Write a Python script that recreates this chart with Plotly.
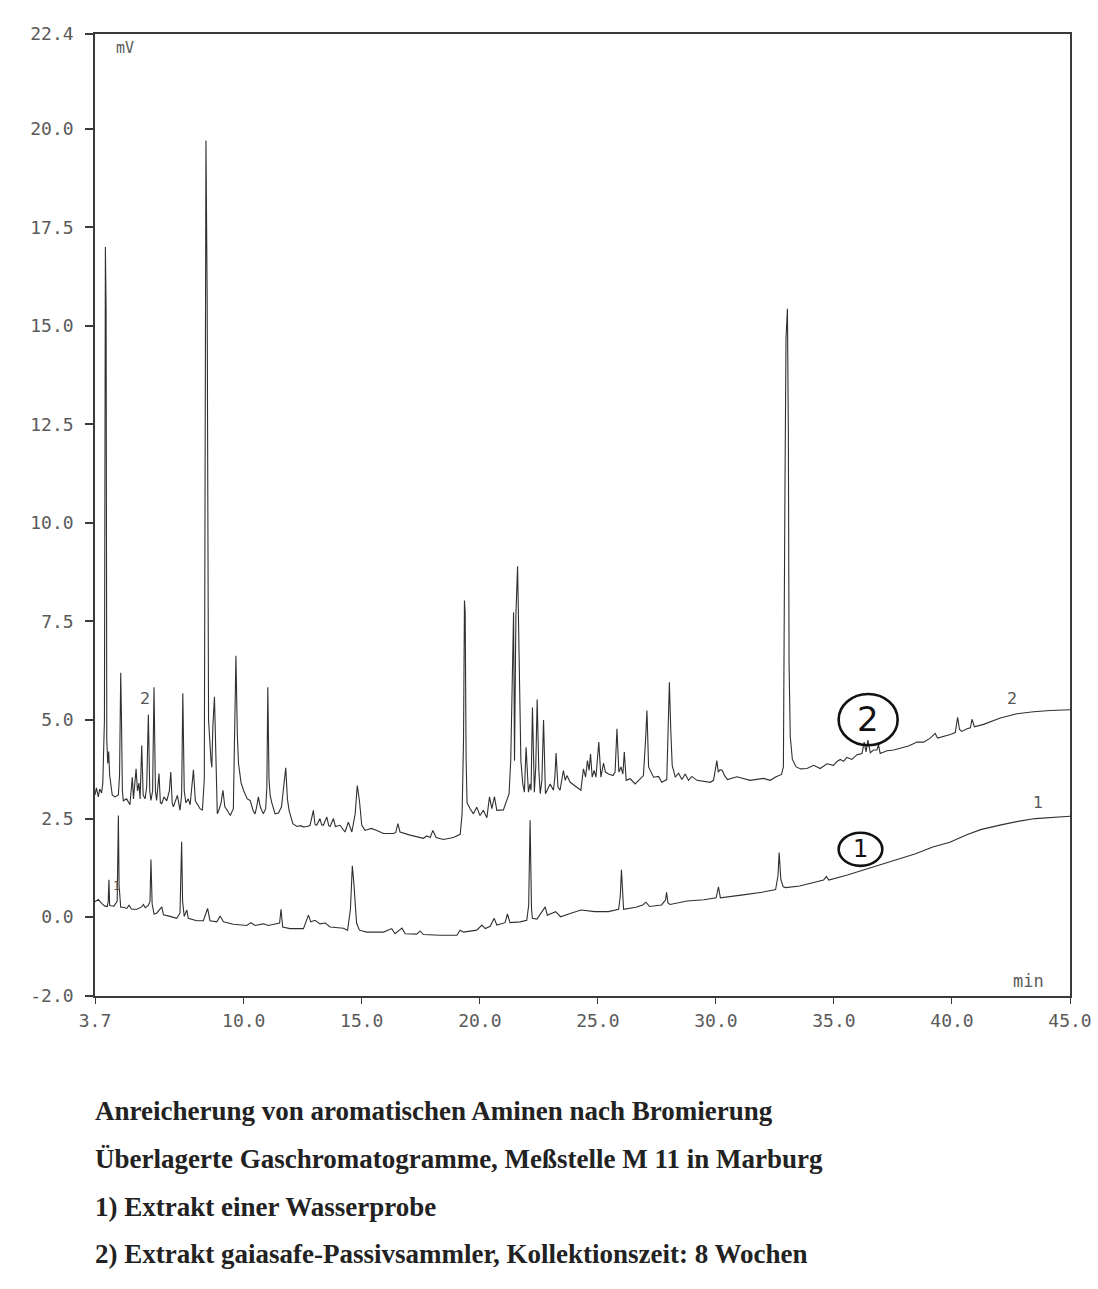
import plotly.graph_objects as go

# ---------------- data ----------------
# Trace 2: Extrakt gaiasafe-Passivsammler (upper chromatogram)
t2 = [3.70, 3.76, 3.84, 3.90, 3.98, 4.03, 4.10, 4.14, 4.17, 4.20, 4.24, 4.28, 4.32, 4.36, 4.43,
      4.55, 4.69, 4.74, 4.79, 4.82, 4.86, 4.90, 5.04, 5.18, 5.28, 5.33, 5.38, 5.44, 5.50, 5.56,
      5.61, 5.68, 5.74, 5.82, 5.89, 5.96, 6.02, 6.07, 6.14, 6.20, 6.26, 6.31, 6.41, 6.47, 6.53,
      6.62, 6.74, 6.85, 6.91, 6.97, 7.02, 7.12, 7.19, 7.30, 7.37, 7.42, 7.48, 7.55, 7.65, 7.73,
      7.87, 7.95, 8.01, 8.15, 8.25, 8.33, 8.40, 8.45, 8.51, 8.57, 8.61, 8.65, 8.69, 8.76, 8.82,
      8.88, 8.94, 9.04, 9.12, 9.20, 9.30, 9.43, 9.56, 9.61, 9.67, 9.73, 9.78, 9.89, 9.99, 10.15,
      10.27, 10.40, 10.48, 10.55, 10.62, 10.70, 10.83, 10.93, 10.98, 11.02, 11.07, 11.12, 11.19, 11.33, 11.47,
      11.60, 11.70, 11.78, 11.85, 11.92, 12.08, 12.25, 12.40, 12.53, 12.70, 12.81, 12.95, 13.02, 13.09, 13.23,
      13.30, 13.37, 13.52, 13.60, 13.66, 13.80, 13.88, 14.08, 14.29, 14.43, 14.58, 14.72, 14.81, 14.90, 15.00,
      15.14, 15.40, 15.64, 15.92, 16.34, 16.44, 16.53, 16.62, 17.05, 17.61, 17.75, 17.90, 18.01, 18.15, 18.46,
      18.88, 19.17, 19.25, 19.31, 19.35, 19.38, 19.42, 19.46, 19.59, 19.73, 19.87, 20.01, 20.15, 20.30, 20.41,
      20.51, 20.62, 20.72, 21.00, 21.14, 21.24, 21.31, 21.37, 21.43, 21.47, 21.53, 21.60, 21.66, 21.74, 21.82,
      21.89, 21.96, 22.06, 22.13, 22.17, 22.23, 22.31, 22.37, 22.43, 22.50, 22.56, 22.63, 22.70, 22.78, 22.98,
      23.12, 23.18, 23.23, 23.31, 23.40, 23.54, 23.62, 23.69, 23.83, 24.11, 24.28, 24.39, 24.48, 24.56, 24.63,
      24.69, 24.76, 24.84, 24.92, 25.04, 25.13, 25.24, 25.32, 25.45, 25.64, 25.73, 25.81, 25.89, 25.98, 26.06,
      26.12, 26.20, 26.37, 26.58, 26.79, 26.93, 27.02, 27.08, 27.15, 27.25, 27.36, 27.57, 27.71, 27.92, 27.99,
      28.03, 28.09, 28.15, 28.28, 28.42, 28.56, 28.70, 28.84, 28.98, 29.20, 29.48, 29.76, 29.90, 30.00, 30.04,
      30.10, 30.18, 30.27, 30.37, 30.49, 30.89, 31.45, 32.02, 32.30, 32.55, 32.78, 32.86, 32.92, 32.97, 33.03,
      33.07, 33.10, 33.15, 33.24, 33.40, 33.60, 33.86, 34.14, 34.42, 34.70, 34.98, 35.13, 35.27, 35.41, 35.55,
      35.76, 35.98, 36.19, 36.28, 36.36, 36.44, 36.54, 36.68, 36.82, 36.89, 36.96, 37.25, 37.53, 37.81, 38.16,
      38.52, 38.80, 39.08, 39.29, 39.39, 39.65, 39.93, 40.14, 40.24, 40.32, 40.42, 40.64, 40.78, 40.85, 40.95,
      41.34, 42.05, 42.75, 43.46, 44.17, 44.93, 45.00]
v2 = [3.10, 3.28, 3.05, 3.25, 3.15, 3.40, 5.00, 17.00, 15.40, 4.50, 3.90, 4.20, 3.60, 3.35, 3.10,
      3.05, 3.10, 3.60, 6.20, 5.10, 3.20, 2.95, 3.00, 2.85, 3.55, 3.00, 3.35, 3.76, 3.20, 3.40,
      3.00, 4.35, 3.10, 3.00, 3.30, 5.14, 3.20, 2.96, 3.20, 5.83, 3.20, 2.96, 3.64, 2.90, 2.88,
      3.05, 2.95, 3.20, 3.68, 2.90, 2.80, 3.00, 3.09, 2.71, 3.10, 5.68, 3.20, 2.90, 3.00, 2.85,
      3.74, 2.95, 2.88, 2.75, 2.71, 3.50, 19.70, 15.80, 5.00, 4.14, 4.00, 3.80, 4.80, 5.59, 3.70,
      2.62, 2.70, 2.90, 3.22, 2.80, 2.71, 2.58, 2.75, 4.20, 6.63, 4.60, 3.89, 3.40, 3.22, 3.00,
      2.96, 2.70, 2.62, 2.80, 3.05, 2.80, 2.62, 2.75, 3.30, 5.83, 3.50, 3.09, 2.90, 2.62, 2.64,
      2.80, 3.30, 3.79, 3.00, 2.71, 2.37, 2.30, 2.32, 2.29, 2.30, 2.33, 2.71, 2.35, 2.33, 2.50,
      2.34, 2.33, 2.54, 2.32, 2.30, 2.50, 2.30, 2.33, 2.16, 2.41, 2.16, 2.62, 3.34, 2.96, 2.33,
      2.20, 2.25, 2.20, 2.12, 2.12, 2.15, 2.37, 2.16, 2.08, 2.00, 2.06, 2.02, 2.20, 2.02, 1.97,
      2.02, 2.10, 2.62, 4.48, 8.03, 7.73, 4.00, 2.90, 2.75, 2.62, 2.79, 2.58, 2.71, 2.52, 3.05,
      2.75, 3.06, 2.71, 2.72, 2.96, 3.13, 3.97, 6.00, 7.73, 3.97, 7.70, 8.90, 6.84, 3.97, 3.38,
      3.17, 4.31, 3.17, 3.38, 3.22, 5.32, 3.17, 3.81, 5.52, 3.72, 3.13, 3.47, 5.00, 3.13, 3.38,
      3.22, 3.55, 4.16, 3.30, 3.22, 3.72, 3.47, 3.59, 3.42, 3.30, 3.22, 3.76, 3.55, 3.97, 3.72,
      4.14, 3.55, 3.72, 3.55, 4.44, 3.55, 3.91, 3.68, 3.63, 3.59, 3.68, 4.78, 3.68, 3.81, 3.63,
      4.19, 3.47, 3.51, 3.38, 3.51, 3.59, 4.48, 5.24, 3.81, 3.68, 3.55, 3.57, 3.42, 3.49, 4.73,
      5.96, 4.73, 3.85, 3.55, 3.65, 3.49, 3.63, 3.47, 3.57, 3.47, 3.45, 3.42, 3.47, 3.93, 3.97,
      3.68, 3.74, 3.72, 3.59, 3.49, 3.56, 3.47, 3.52, 3.47, 3.56, 3.62, 3.81, 10.30, 14.67, 15.43,
      12.25, 6.43, 4.58, 4.00, 3.81, 3.76, 3.77, 3.85, 3.77, 3.89, 3.85, 3.95, 4.00, 3.95, 4.05,
      4.00, 4.12, 4.15, 4.44, 4.19, 4.49, 4.17, 4.24, 4.24, 4.37, 4.15, 4.22, 4.24, 4.29, 4.34,
      4.44, 4.44, 4.54, 4.66, 4.54, 4.58, 4.63, 4.68, 5.07, 4.76, 4.71, 4.78, 4.80, 5.02, 4.83,
      4.89, 5.05, 5.16, 5.21, 5.24, 5.26, 5.26]

# Trace 1: Extrakt einer Wasserprobe (lower chromatogram)
t1 = [3.70, 3.84, 3.98, 4.12, 4.22, 4.26, 4.29, 4.32, 4.37, 4.50, 4.64, 4.69, 4.72, 4.79, 4.90,
      5.04, 5.14, 5.25, 5.47, 5.68, 5.75, 5.83, 5.96, 6.03, 6.07, 6.12, 6.20, 6.31, 6.53, 6.60,
      6.88, 7.16, 7.30, 7.37, 7.41, 7.48, 7.59, 7.65, 8.01, 8.29, 8.47, 8.57, 8.86, 9.00, 9.14,
      9.56, 10.13, 10.30, 10.48, 10.83, 11.04, 11.33, 11.52, 11.58, 11.65, 11.96, 12.53, 12.74, 12.84, 13.02,
      13.23, 13.45, 13.66, 14.22, 14.40, 14.52, 14.60, 14.66, 14.78, 14.90, 15.21, 15.92, 16.27, 16.41, 16.70,
      16.84, 17.33, 17.47, 17.61, 18.32, 19.03, 19.17, 19.31, 19.87, 20.09, 20.23, 20.44, 20.61, 20.72, 21.07,
      21.17, 21.28, 21.71, 21.99, 22.07, 22.13, 22.19, 22.23, 22.42, 22.77, 22.86, 23.21, 23.42, 23.86, 24.29,
      24.87, 25.45, 25.88, 25.95, 26.00, 26.04, 26.09, 26.61, 26.90, 27.04, 27.19, 27.70, 27.87, 27.91, 27.97,
      28.06, 28.78, 29.50, 30.01, 30.11, 30.19, 31.23, 31.95, 32.53, 32.63, 32.68, 32.75, 32.85, 32.96, 33.55,
      34.12, 34.56, 34.68, 34.78, 35.57, 36.29, 37.02, 37.74, 38.46, 39.19, 39.91, 40.63, 41.21, 42.08, 42.80,
      43.53, 44.25, 45.00]
v1 = [0.39, 0.45, 0.35, 0.28, 0.27, 0.40, 0.95, 0.30, 0.29, 0.28, 0.40, 2.58, 0.80, 0.25, 0.25,
      0.22, 0.30, 0.20, 0.20, 0.26, 0.32, 0.24, 0.30, 0.40, 1.46, 0.34, 0.08, 0.10, 0.26, 0.06,
      0.02, -0.03, 0.10, 1.91, 0.40, 0.02, 0.18, -0.03, -0.09, -0.09, 0.22, -0.09, -0.12, 0.03, -0.12,
      -0.18, -0.21, -0.14, -0.21, -0.17, -0.21, -0.17, -0.15, 0.20, -0.25, -0.29, -0.29, 0.05, -0.12, -0.08,
      -0.17, -0.15, -0.25, -0.28, -0.33, 0.20, 1.30, 0.90, -0.15, -0.33, -0.38, -0.38, -0.29, -0.42, -0.28,
      -0.42, -0.43, -0.35, -0.44, -0.46, -0.46, -0.33, -0.38, -0.33, -0.20, -0.29, -0.23, -0.03, -0.20, -0.14,
      0.08, -0.14, -0.12, -0.08, 0.30, 2.46, 0.20, -0.03, -0.05, 0.26, 0.05, 0.14, 0.01, 0.10, 0.18,
      0.14, 0.14, 0.20, 0.53, 1.20, 0.53, 0.20, 0.25, 0.31, 0.38, 0.27, 0.31, 0.44, 0.63, 0.36,
      0.32, 0.41, 0.44, 0.49, 0.77, 0.49, 0.57, 0.63, 0.70, 1.05, 1.64, 0.96, 0.77, 0.75, 0.79,
      0.88, 0.94, 1.03, 0.94, 1.07, 1.20, 1.35, 1.48, 1.61, 1.78, 1.90, 2.09, 2.22, 2.34, 2.43,
      2.50, 2.53, 2.56]

x_tickvals = [3.7, 10.0, 15.0, 20.0, 25.0, 30.0, 35.0, 40.0, 45.0]
x_ticktext = ["3.7", "10.0", "15.0", "20.0", "25.0", "30.0", "35.0", "40.0", "45.0"]
y_tickvals = [-2.0, 0.0, 2.5, 5.0, 7.5, 10.0, 12.5, 15.0, 17.5, 20.0, 22.4]
y_ticktext = ["-2.0", "0.0", "2.5", "5.0", "7.5", "10.0", "12.5", "15.0", "17.5", "20.0", "22.4"]

caption = [
    "Anreicherung von aromatischen Aminen nach Bromierung",
    "Überlagerte Gaschromatogramme, Meßstelle M 11 in Marburg",
    "1) Extrakt einer Wasserprobe",
    "2) Extrakt gaiasafe-Passivsammler, Kollektionszeit: 8 Wochen",
]

# ---------------- figure ----------------
LINE = "#303030"
AXIS = "#3a3a3a"
TICKFONT = dict(family="DejaVu Sans Mono", size=18, color="#5a5a5a")

fig = go.Figure()
fig.add_trace(go.Scatter(x=t2, y=v2, mode="lines", line=dict(color=LINE, width=1.1),
                         name="2", showlegend=False, hoverinfo="skip"))
fig.add_trace(go.Scatter(x=t1, y=v1, mode="lines", line=dict(color=LINE, width=1.1),
                         name="1", showlegend=False, hoverinfo="skip"))

fig.update_xaxes(range=[3.7, 45.0], tickvals=x_tickvals, ticktext=x_ticktext,
                 showgrid=False, zeroline=False, showline=True, mirror=True,
                 linecolor=AXIS, linewidth=1.5, ticks="outside", ticklen=6,
                 tickcolor=AXIS, tickwidth=1, tickfont=TICKFONT, ticklabelstandoff=2,
                 automargin=False)
fig.update_yaxes(range=[-2.0, 22.4], tickvals=y_tickvals, ticktext=y_ticktext,
                 showgrid=False, zeroline=False, showline=True, mirror=True,
                 linecolor=AXIS, linewidth=1.5, ticks="outside", ticklen=8,
                 tickcolor=AXIS, tickwidth=1.5, tickfont=TICKFONT, ticklabelstandoff=8,
                 automargin=False)

ann = []
ann.append(dict(x=4.5, y=22.05, xref="x", yref="y", text="mV", showarrow=False,
                xanchor="left", yanchor="middle", font=dict(family="DejaVu Sans Mono", size=15, color="#5a5a5a")))
ann.append(dict(x=44.0, y=-1.62, xref="x", yref="y", text="min", showarrow=False,
                xanchor="right", yanchor="middle", font=dict(family="DejaVu Sans Mono", size=17, color="#5a5a5a")))
small = dict(family="DejaVu Sans", size=16, color="#555555")
ann.append(dict(x=5.82, y=5.55, text="2", showarrow=False, font=small))
ann.append(dict(x=4.62, y=0.80, text="1", showarrow=False, font=dict(family="DejaVu Sans", size=12, color="#555555")))
ann.append(dict(x=42.56, y=5.55, text="2", showarrow=False, font=small))
ann.append(dict(x=43.66, y=2.90, text="1", showarrow=False, font=small))
ann.append(dict(x=36.45, y=5.02, text="2", showarrow=False,
                font=dict(family="DejaVu Sans", size=34, color="#111111")))
ann.append(dict(x=36.12, y=1.72, text="1", showarrow=False,
                font=dict(family="DejaVu Sans", size=24, color="#111111")))
cap_y = [1111, 1159, 1207, 1254]
for txt, py in zip(caption, cap_y):
    ann.append(dict(x=-0.002, y=(996 - py) / 962.0, xref="paper", yref="paper", text="<b>" + txt + "</b>",
                    showarrow=False, xanchor="left", yanchor="middle",
                    font=dict(family="Liberation Serif", size=27, color="#222222")))
for a in ann:
    a.setdefault("xref", "x")
    a.setdefault("yref", "y")

shapes = [
    dict(type="circle", xref="x", yref="y", x0=35.20, x1=37.70, y0=4.36, y1=5.66,
         line=dict(color="#111111", width=2.6)),
    dict(type="circle", xref="x", yref="y", x0=35.20, x1=37.05, y0=1.30, y1=2.14,
         line=dict(color="#111111", width=2.6)),
]

# plot frame at x 95..1070, y 34..996 of the 1098x1289 page (body margin removed below)
fig.update_layout(width=1098, height=1289, paper_bgcolor="white", plot_bgcolor="white",
                  margin=dict(l=95, r=28, t=34, b=293), annotations=ann, shapes=shapes,
                  showlegend=False)

fig.write_html("out.html", config={"displayModeBar": False},
               post_script="document.body.style.margin='0';document.body.style.overflow='hidden';")
